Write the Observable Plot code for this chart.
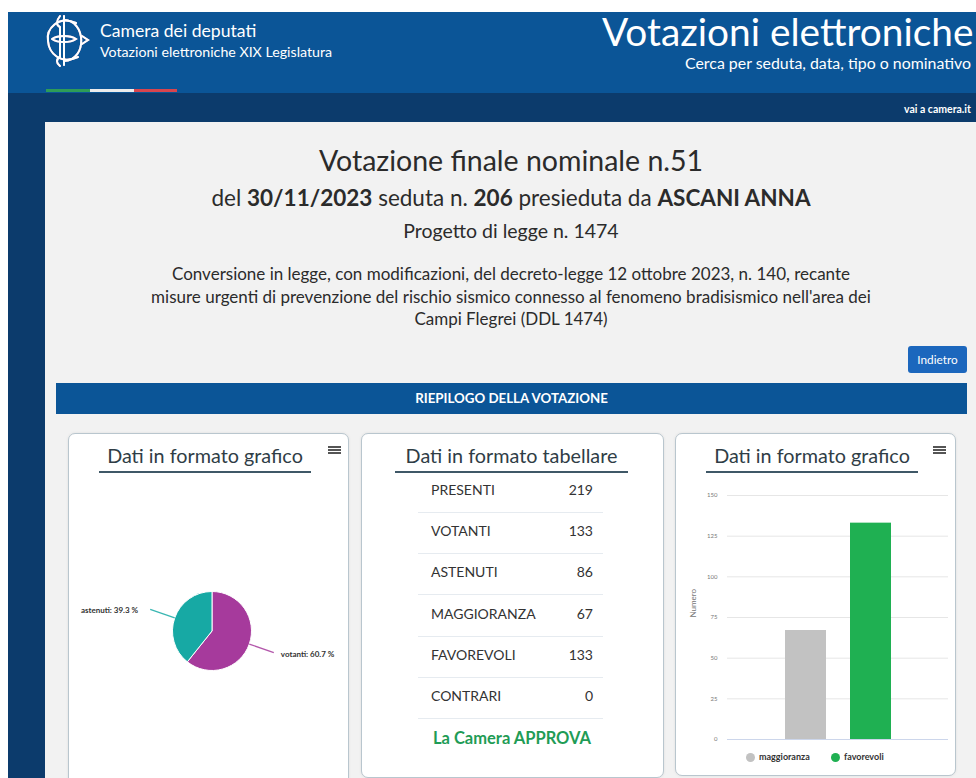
<!DOCTYPE html>
<html lang="it">
<head>
<meta charset="utf-8">
<script src="https://cdn.jsdelivr.net/npm/d3@7"></script>
<script src="https://cdn.jsdelivr.net/npm/@observablehq/plot@0.6"></script>
<style>
html,body{margin:0;padding:0}
body{width:976px;height:778px;overflow:hidden;position:relative;background:#fff;font-family:"Lato","Open Sans",sans-serif;color:#2b2b2b}
.a{position:absolute;white-space:nowrap}
#hdr{left:8px;top:12px;width:968px;height:81px;background:#0b5597}
#nav{left:8px;top:93px;width:968px;height:29px;background:#0c3b6c}
#side{left:8px;top:122px;width:37px;height:656px;background:#0c3b6c}
#main{left:45px;top:122px;width:931px;height:656px;background:#f2f2f2}
.ctr{left:45px;width:932px;text-align:center}
.card{position:absolute;background:#fff;border:1px solid #b9c6ce;border-radius:7px;box-shadow:0 0 3px rgba(0,0,0,.08)}
.ctitle{position:absolute;font-size:19.8px;color:#2f3d46;text-align:center;line-height:24px;white-space:nowrap}
.uline{position:absolute;height:2px;background:#3f5867}
.ham{position:absolute;width:13px;height:2px;background:#555;box-shadow:0 3px 0 #555,0 6px 0 #555}
.tl{position:absolute;font-size:14px;color:#333;line-height:20px}
.tv{position:absolute;font-size:14px;color:#333;line-height:20px;text-align:right;width:60px}
.sep{position:absolute;left:418px;width:185px;height:1px;background:#e6ebf0}
.leg{position:absolute;font-size:9px;font-weight:bold;color:#333;line-height:12px}
.dot{position:absolute;width:9px;height:9px;border-radius:50%}
</style>
</head>
<body>
<div id="hdr" class="a"></div>
<div id="nav" class="a"></div>
<div id="side" class="a"></div>
<div id="main" class="a"></div>

<svg class="a" style="left:42px;top:11px" width="56" height="58" viewBox="0 0 56 58">
  <g fill="none" stroke="#fff" stroke-width="2" stroke-linecap="round" style="filter:drop-shadow(0 0 0.6px #e7a3b4)">
    <path d="M18 5 C 14 10, 14 14, 18 16 L18 46 C 14 48, 14 52, 18 55"/>
    <path d="M22 5 L22 54"/>
    <path d="M22 9 C 44 9, 46 49, 22 50"/>
    <path d="M34 12 C 16 4, 4 18, 6 30 C 7 42, 18 54, 36 46"/>
    <path d="M40 25 L46 29 L40 33"/>
    <path d="M10 28 C 16 24, 28 24, 34 28 C 28 32, 16 32, 10 28"/>
  </g>
</svg>
<div class="a" style="left:100px;top:20px;font-size:17.6px;color:#fff;line-height:22px">Camera dei deputati</div>
<div class="a" style="left:100px;top:43px;font-size:14.2px;color:#fff;line-height:17px">Votazioni elettroniche XIX Legislatura</div>
<div class="a" style="left:46px;top:89px;width:44px;height:3px;background:#2e9c57"></div>
<div class="a" style="left:90px;top:89px;width:44px;height:3px;background:#ececec"></div>
<div class="a" style="left:134px;top:89px;width:43px;height:3px;background:#d8454e"></div>

<div class="a" style="left:602px;top:12px;font-size:38.8px;color:#fff;line-height:39px">Votazioni elettroniche</div>
<div class="a" style="left:685px;top:55px;font-size:15.9px;color:#fff;line-height:16px">Cerca per seduta, data, tipo o nominativo</div>
<div class="a" style="left:904px;top:103px;font-size:10.5px;font-weight:bold;color:#fff;line-height:13px">vai a camera.it</div>

<div class="a ctr" style="top:142px;font-size:28.5px;line-height:36px">Votazione finale nominale n.51</div>
<div class="a ctr" style="top:184px;font-size:22.5px;line-height:28px">del <b>30/11/2023</b> seduta n. <b>206</b> presieduta da <b>ASCANI ANNA</b></div>
<div class="a ctr" style="top:219px;font-size:19.5px;line-height:24px">Progetto di legge n. 1474</div>
<div class="a ctr" style="top:263px;font-size:17px;line-height:22.5px">Conversione in legge, con modificazioni, del decreto-legge 12 ottobre 2023, n. 140, recante<br>misure urgenti di prevenzione del rischio sismico connesso al fenomeno bradisismico nell'area dei<br>Campi Flegrei (DDL 1474)</div>

<div class="a" style="left:908px;top:346px;width:59px;height:27px;background:#1c67bd;border-radius:3px;color:#fff;font-size:11.8px;line-height:27px;text-align:center">Indietro</div>
<div class="a" style="left:56px;top:383px;width:911px;height:31px;background:#0b5597;color:#fff;font-size:13.3px;font-weight:bold;line-height:31px;text-align:center">RIEPILOGO DELLA VOTAZIONE</div>

<div class="card" style="left:68px;top:433px;width:279px;height:370px"></div>
<div class="card" style="left:361px;top:433px;width:301px;height:343px"></div>
<div class="card" style="left:675px;top:433px;width:279px;height:341px"></div>

<div class="ctitle" style="left:99px;width:212px;top:443px">Dati in formato grafico</div>
<div class="uline" style="left:99px;width:212px;top:471px"></div>
<div class="ham" style="left:328px;top:446px"></div>
<div class="ctitle" style="left:395px;width:233px;top:443px">Dati in formato tabellare</div>
<div class="uline" style="left:395px;width:233px;top:471px"></div>
<div class="ctitle" style="left:706px;width:212px;top:443px">Dati in formato grafico</div>
<div class="uline" style="left:706px;width:212px;top:471px"></div>
<div class="ham" style="left:933px;top:446px"></div>

<div id="table"></div>
<div class="a" style="left:361px;width:302px;text-align:center;top:728px;font-size:16.5px;font-weight:bold;color:#1f9c56;line-height:20px">La Camera APPROVA</div>

<div id="pie" class="a" style="left:68px;top:485px"></div>
<div id="bar" class="a" style="left:680px;top:485px"></div>
<div id="legend"></div>

<script>
// ---- data ----
const pieLabels = ["votanti", "astenuti"];
const pieValues = [133, 86];
const pieColors = ["#a63a9c", "#17a9a4"];

const tableLabels = ["PRESENTI", "VOTANTI", "ASTENUTI", "MAGGIORANZA", "FAVOREVOLI", "CONTRARI"];
const tableValues = [219, 133, 86, 67, 133, 0];

const barCategories = ["maggioranza", "favorevoli"];
const barValues = [67, 133];
const barColors = ["#c2c2c2", "#1fb052"];
const yTicks = [0, 25, 50, 75, 100, 125, 150];
const yLabel = "Numero";

// ---- table ----
const tbl = document.getElementById("table");
tableLabels.forEach((lab, i) => {
  const cy = 490 + 41.2 * i;
  tbl.insertAdjacentHTML("beforeend",
    `<div class="tl" style="left:431px;top:${cy - 10}px">${lab}</div>` +
    `<div class="tv" style="left:533px;top:${cy - 10}px">${tableValues[i]}</div>` +
    `<div class="sep" style="top:${cy + 22}px"></div>`);
});

// ---- pie ----
const pieData = pieLabels.map((label, i) => ({label, value: pieValues[i]}));
const total = d3.sum(pieValues);
function pieMark(index, scales, values, dims) {
  const cx = scales.x(0), cy = scales.y(0);
  const r = 39.5;
  const color = scales.color || d3.scaleOrdinal(pieLabels, pieColors);
  const arcs = d3.pie().sort(null).value(d => d.value)(pieData);
  const arc = d3.arc().innerRadius(0).outerRadius(r);
  const g = d3.create("svg:g");
  g.selectAll("path").data(arcs).join("path")
    .attr("transform", `translate(${cx},${cy})`)
    .attr("d", arc)
    .attr("fill", d => color(d.data.label))
    .attr("stroke", "#fff").attr("stroke-width", 1);
  arcs.forEach(a => {
    const mid = (a.startAngle + a.endAngle) / 2;
    const dx = Math.sin(mid), dy = -Math.cos(mid);
    const x0 = cx + dx * r, y0 = cy + dy * r;
    const x1 = cx + dx * (r + 26), y1 = cy + dy * (r + 26);
    const left = dx < 0;
    g.append("line").attr("x1", x0).attr("y1", y0).attr("x2", x1).attr("y2", y1)
      .attr("stroke", color(a.data.label)).attr("stroke-opacity", 0.85).attr("stroke-width", 1.3);
    g.append("text")
      .attr("x", x1 + (left ? -12 : 7)).attr("y", y1 + 2)
      .attr("text-anchor", left ? "end" : "start")
      .attr("dominant-baseline", "middle")
      .attr("font-size", 8).attr("font-weight", "bold").attr("fill", "#333")
      .text(`${a.data.label}: ${(a.data.value / total * 100).toFixed(1)} %`);
  });
  return g.node();
}
document.getElementById("pie").append(Plot.plot({
  width: 288, height: 292,
  margin: 0,
  x: {domain: [-1, 1], axis: null},
  y: {domain: [-1, 1], axis: null},
  color: {domain: pieLabels, range: pieColors},
  style: {background: "transparent", overflow: "visible", fontFamily: "Lato, sans-serif"},
  marks: [pieMark]
}));

// ---- bar ----
const barData = barCategories.map((cat, i) => ({cat, value: barValues[i]}));
document.getElementById("bar").append(Plot.plot({
  width: 275, height: 264,
  marginLeft: 47, marginRight: 7, marginTop: 10, marginBottom: 10,
  x: {domain: barCategories, paddingInner: 0.374, paddingOuter: 0.874, axis: null},
  y: {domain: [0, 150], axis: null},
  color: {domain: barCategories, range: barColors},
  style: {background: "transparent", overflow: "visible", fontFamily: "Lato, sans-serif"},
  marks: [
    Plot.gridY(yTicks.filter(d => d > 0), {stroke: "#e6e6e6", strokeOpacity: 1}),
    Plot.axisY(yTicks, {tickSize: 0, tickPadding: 10, fontSize: 6, fill: "#777", label: null}),
    Plot.ruleY([0], {stroke: "#ccd6eb"}),
    Plot.barY(barData, {x: "cat", y: "value", fill: "cat"}),
    Plot.text([yLabel], {frameAnchor: "left", rotate: -90, dx: -34, fontSize: 8, fill: "#777"})
  ]
}));

// ---- legend ----
const leg = document.getElementById("legend");
const legX = [750, 835];
barCategories.forEach((c, i) => {
  leg.insertAdjacentHTML("beforeend",
    `<div class="dot" style="left:${legX[i] - 4.5}px;top:753px;background:${barColors[i]}"></div>` +
    `<div class="leg" style="left:${legX[i] + 9}px;top:751px">${c}</div>`);
});
</script>
</body>
</html>
